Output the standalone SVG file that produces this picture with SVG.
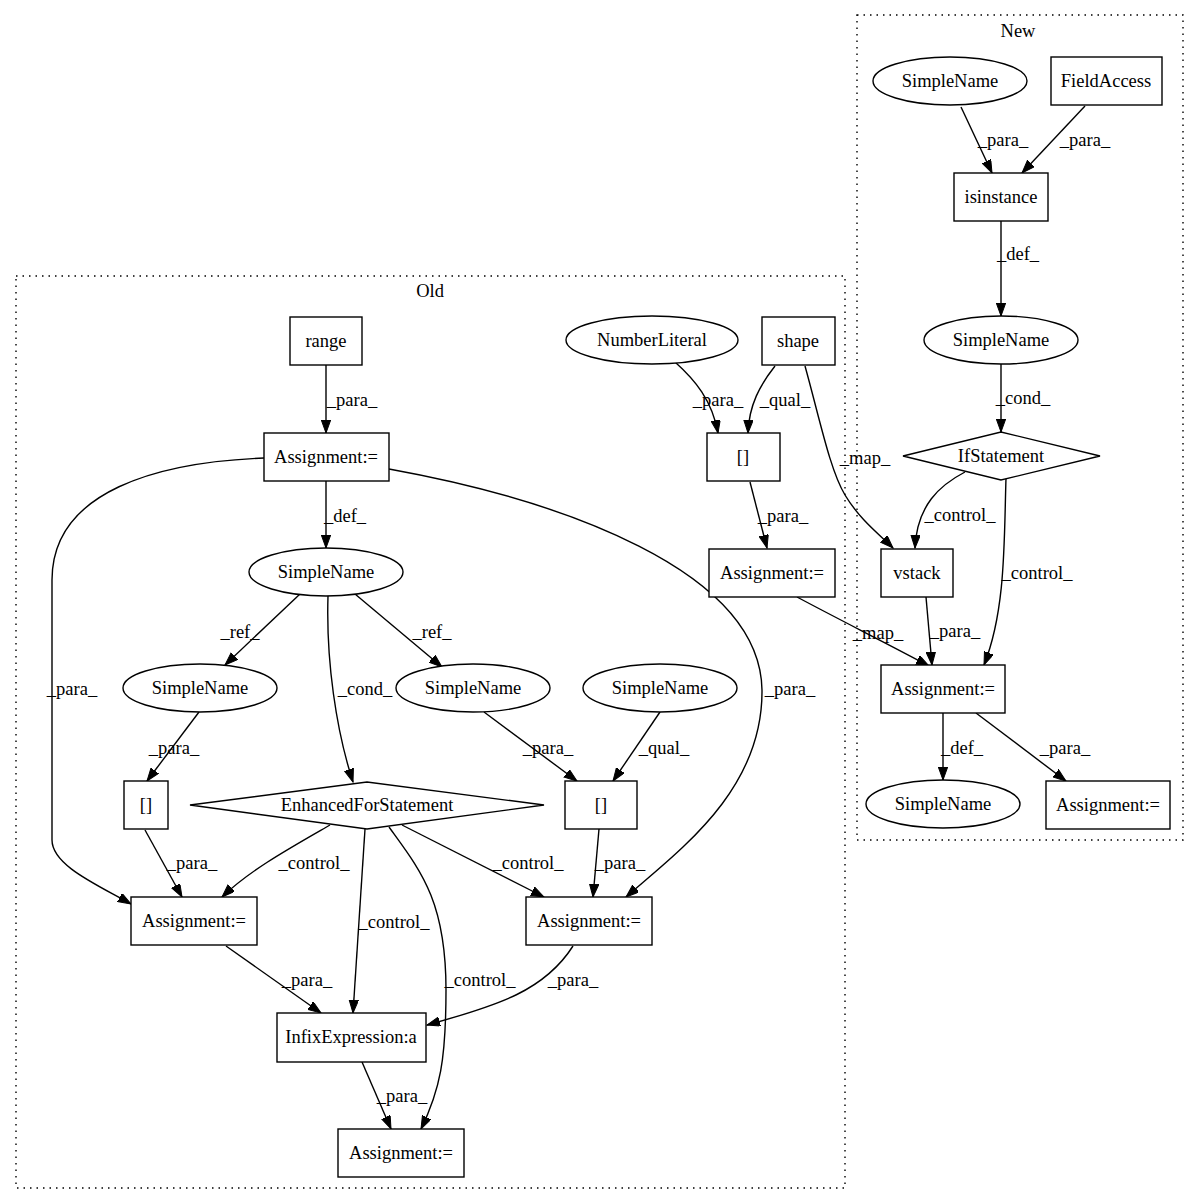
<svg xmlns="http://www.w3.org/2000/svg" width="1197" height="1204" viewBox="0 0 1197 1204">
<defs>
<marker id="ah" markerUnits="userSpaceOnUse" markerWidth="14" markerHeight="10" refX="13" refY="4.7" orient="auto">
<path d="M0,0 L13,4.7 L0,9.4 z" fill="#000" stroke="#000" stroke-width="1"/>
</marker>
</defs>
<style>
text{font-family:"Liberation Serif","Times New Roman",serif;font-size:18.5px;fill:#000;text-anchor:middle}
.n{fill:#fff;stroke:#000;stroke-width:1.4}
.c{fill:none;stroke:#000;stroke-width:1.4;stroke-dasharray:1.5,5}
.e{fill:none;stroke:#000;stroke-width:1.4;marker-end:url(#ah)}
</style>
<rect width="1197" height="1204" fill="#fff"/>
<g id="clusters">
<rect class="c" x="857" y="15" width="326" height="825"/>
<text x="1018" y="37">New</text>
<rect class="c" x="16" y="276" width="829" height="912"/>
<text x="430" y="297">Old</text>
</g>
<g id="connectors">
<path class="e" d="M326,365 L326,433"/><text x="352" y="406">_para_</text>
<path class="e" d="M326,481 L326,548"/><text x="345" y="522">_def_</text>
<path class="e" d="M264,458 C160,462 52,490 52,580 L52,840 C52,866 100,886 131,904"/><text x="72" y="695">_para_</text>
<path class="e" d="M389,469 C560,500 760,570 762,690 C763,790 680,850 626,897"/><text x="790" y="695">_para_</text>
<path class="e" d="M300,594 L225,665"/><text x="240" y="638">_ref_</text>
<path class="e" d="M328,596 C326,660 336,730 353,782"/><text x="365" y="695">_cond_</text>
<path class="e" d="M355,594 L442,667"/><text x="432" y="638">_ref_</text>
<path class="e" d="M199,712 L147,781"/><text x="174" y="754">_para_</text>
<path class="e" d="M484,712 L577,781"/><text x="548" y="754">_para_</text>
<path class="e" d="M660,712 L613,781"/><text x="664" y="754">_qual_</text>
<path class="e" d="M145,830 L182,897"/><text x="192" y="869">_para_</text>
<path class="e" d="M330,825 C290,848 250,870 222,897"/><text x="314" y="869">_control_</text>
<path class="e" d="M365,829 L353,1013"/><text x="394" y="928">_control_</text>
<path class="e" d="M389,827 C420,870 446,900 446,990 C446,1060 440,1090 421,1129"/><text x="480" y="986">_control_</text>
<path class="e" d="M402,825 L544,897"/><text x="528" y="869">_control_</text>
<path class="e" d="M599,829 L593,897"/><text x="620" y="869">_para_</text>
<path class="e" d="M226,946 L321,1013"/><text x="307" y="986">_para_</text>
<path class="e" d="M573,946 C545,990 500,1005 427,1025"/><text x="573" y="986">_para_</text>
<path class="e" d="M362,1062 L391,1129"/><text x="402" y="1102">_para_</text>
<path class="e" d="M675,362 C695,380 712,400 718,433"/><text x="718" y="406">_para_</text>
<path class="e" d="M775,366 C760,385 749,405 748,433"/><text x="785" y="406">_qual_</text>
<path class="e" d="M805,366 C820,420 830,470 845,495 C860,520 880,535 893,548"/><text x="865" y="464">_map_</text>
<path class="e" d="M750,482 L767,548"/><text x="783" y="522">_para_</text>
<path class="e" d="M797,597 C840,620 890,645 929,666"/><text x="878" y="639">_map_</text>
<path class="e" d="M961,107 L992,173"/><text x="1003" y="146">_para_</text>
<path class="e" d="M1085,106 L1022,173"/><text x="1085" y="146">_para_</text>
<path class="e" d="M1001,221 L1001,316"/><text x="1018" y="260">_def_</text>
<path class="e" d="M1001,364 L1001,432"/><text x="1023" y="404">_cond_</text>
<path class="e" d="M965,472 C940,485 917,505 915,548"/><text x="960" y="521">_control_</text>
<path class="e" d="M1006,478 C1004,540 1006,610 984,665"/><text x="1037" y="579">_control_</text>
<path class="e" d="M926,597 L932,665"/><text x="955" y="637">_para_</text>
<path class="e" d="M943,713 L943,780"/><text x="962" y="754">_def_</text>
<path class="e" d="M976,713 L1066,781"/><text x="1065" y="754">_para_</text>
</g>
<g id="n_new_simplename1"><ellipse class="n" cx="950" cy="81" rx="77" ry="24"/><text x="950" y="87">SimpleName</text></g>
<g id="n_fieldaccess"><rect class="n" x="1051" y="57" width="111" height="48"/><text x="1106" y="87">FieldAccess</text></g>
<g id="n_isinstance"><rect class="n" x="954" y="173" width="94" height="48"/><text x="1001" y="203">isinstance</text></g>
<g id="n_new_simplename2"><ellipse class="n" cx="1001" cy="340" rx="77" ry="24"/><text x="1001" y="346">SimpleName</text></g>
<g id="n_ifstatement"><polygon class="n" points="903,456 1001,432 1100,456 1001,480"/><text x="1001" y="462">IfStatement</text></g>
<g id="n_vstack"><rect class="n" x="881" y="549" width="72" height="48"/><text x="917" y="579">vstack</text></g>
<g id="n_new_assign1"><rect class="n" x="881" y="665" width="124" height="48"/><text x="943" y="695">Assignment:=</text></g>
<g id="n_new_simplename3"><ellipse class="n" cx="943" cy="804" rx="77" ry="24"/><text x="943" y="810">SimpleName</text></g>
<g id="n_new_assign2"><rect class="n" x="1046" y="781" width="124" height="48"/><text x="1108" y="811">Assignment:=</text></g>
<g id="n_range"><rect class="n" x="290" y="317" width="72" height="48"/><text x="326" y="347">range</text></g>
<g id="n_old_assign_top"><rect class="n" x="264" y="433" width="125" height="48"/><text x="326" y="463">Assignment:=</text></g>
<g id="n_old_simplename"><ellipse class="n" cx="326" cy="572" rx="77" ry="24"/><text x="326" y="578">SimpleName</text></g>
<g id="n_numberliteral"><ellipse class="n" cx="652" cy="340" rx="86" ry="24"/><text x="652" y="346">NumberLiteral</text></g>
<g id="n_shape"><rect class="n" x="762" y="317" width="73" height="48"/><text x="798" y="347">shape</text></g>
<g id="n_idx_top"><rect class="n" x="707" y="433" width="73" height="48"/><text x="743" y="463">[]</text></g>
<g id="n_old_assign_mid"><rect class="n" x="709" y="549" width="126" height="48"/><text x="772" y="579">Assignment:=</text></g>
<g id="n_sn_left"><ellipse class="n" cx="200" cy="688" rx="77" ry="24"/><text x="200" y="694">SimpleName</text></g>
<g id="n_sn_right"><ellipse class="n" cx="473" cy="688" rx="77" ry="24"/><text x="473" y="694">SimpleName</text></g>
<g id="n_sn_qual"><ellipse class="n" cx="660" cy="688" rx="77" ry="24"/><text x="660" y="694">SimpleName</text></g>
<g id="n_idx_left"><rect class="n" x="124" y="781" width="44" height="48"/><text x="146" y="811">[]</text></g>
<g id="n_efs"><polygon class="n" points="190,805 367,782 544,805 367,829"/><text x="367" y="811">EnhancedForStatement</text></g>
<g id="n_idx_right"><rect class="n" x="565" y="781" width="72" height="48"/><text x="601" y="811">[]</text></g>
<g id="n_assign_left"><rect class="n" x="131" y="897" width="126" height="48"/><text x="194" y="927">Assignment:=</text></g>
<g id="n_assign_right"><rect class="n" x="526" y="897" width="126" height="48"/><text x="589" y="927">Assignment:=</text></g>
<g id="n_infix"><rect class="n" x="277" y="1013" width="149" height="49"/><text x="351" y="1043">InfixExpression:a</text></g>
<g id="n_assign_bottom"><rect class="n" x="338" y="1129" width="126" height="48"/><text x="401" y="1159">Assignment:=</text></g>
</svg>
